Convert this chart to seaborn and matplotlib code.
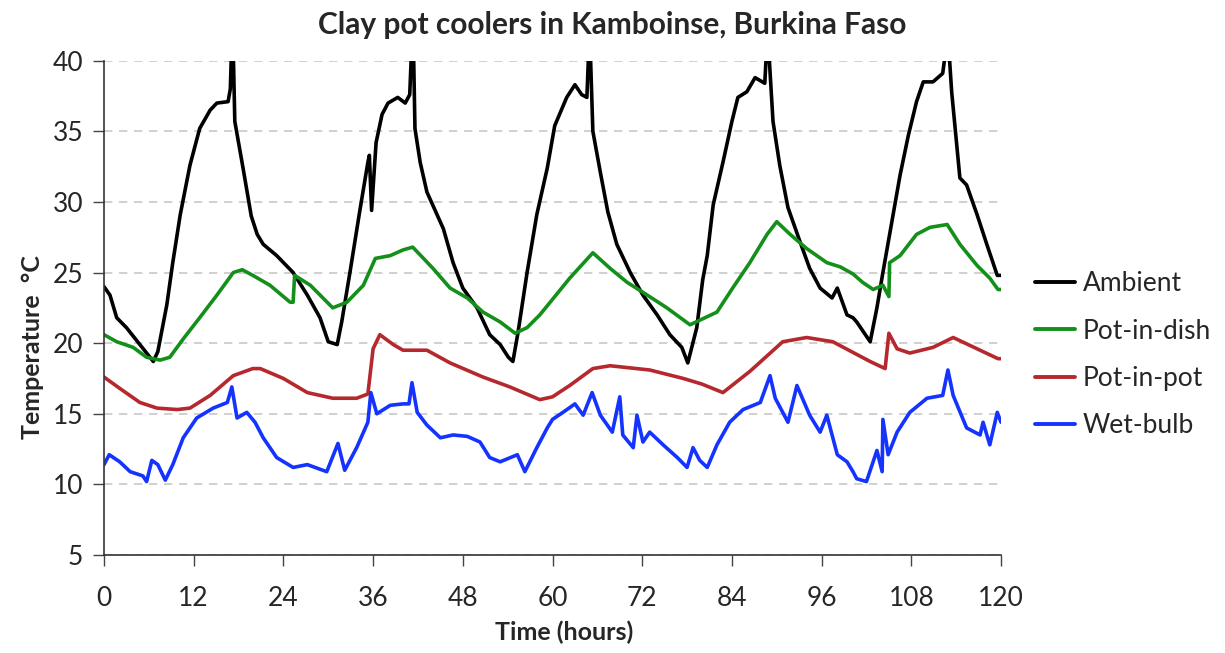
import numpy as np
import pandas as pd
import matplotlib
matplotlib.use("Agg")
import matplotlib.pyplot as plt
import seaborn as sns

# ---- data ----
t_ambient = [0, 0.8, 1.7, 3.0, 4.8, 6.6, 7.2, 8.4, 9.2, 10.2, 11.5, 12.8, 14.2, 15.1, 16.6, 16.9, 17.1, 17.3,
             17.5, 18.6, 19.7, 20.5, 21.3, 23.1, 25.3, 27.2, 28.9, 30.0, 31.2, 31.8, 32.9, 34.2, 35.3, 35.5,
             35.8, 36.4, 37.2, 38.0, 39.3, 40.3, 40.9, 41.2, 41.4, 41.6, 42.3, 43.2, 45.4, 46.7, 48.0, 49.9,
             51.6, 53.0, 54.1, 54.7, 55.4, 56.6, 57.9, 59.3, 60.3, 61.9, 63.0, 63.9, 64.6, 64.9, 65.1, 65.4,
             66.4, 67.4, 68.6, 70.4, 72.1, 74.0, 75.7, 77.3, 78.1, 79.3, 80.1, 80.7, 81.5, 82.8, 84.0, 84.8,
             86.0, 87.1, 88.4, 88.7, 88.9, 89.5, 90.4, 91.5, 93.1, 94.4, 95.8, 97.4, 98.1, 99.4, 100.2, 100.7,
             102.5, 103.4, 104.2, 105.4, 106.5, 107.6, 108.7, 109.6, 110.9, 112.2, 112.8, 113.0, 113.4, 114.5,
             115.4, 116.8, 118.1, 119.5, 120.0]
ambient = [24.0, 23.4, 21.8, 21.1, 19.9, 18.7, 19.4, 22.7, 25.7, 29.1, 32.6, 35.2, 36.5, 37.0, 37.1, 38.0, 41.5, 40.5,
           35.7, 32.4, 29.0, 27.7, 27.0, 26.2, 25.0, 23.4, 21.8, 20.1, 19.9, 21.5, 25.0, 29.3, 32.8, 33.3,
           29.4, 34.2, 36.2, 37.0, 37.4, 37.0, 37.6, 41.5, 41.0, 35.2, 32.8, 30.7, 28.1, 25.7, 23.9, 22.5,
           20.6, 19.9, 19.0, 18.7, 20.8, 25.0, 29.1, 32.4, 35.4, 37.4, 38.3, 37.6, 37.4, 41.5, 40.0, 35.0,
           32.1, 29.3, 27.0, 25.0, 23.4, 22.0, 20.6, 19.7, 18.6, 21.1, 24.5, 26.2, 29.8, 32.8, 35.7, 37.4,
           37.8, 38.8, 38.4, 41.5, 41.0, 35.7, 32.6, 29.6, 27.2, 25.3, 23.9, 23.2, 23.9, 22.0, 21.8, 21.5,
           20.1, 22.5, 25.0, 28.6, 31.9, 34.7, 37.1, 38.5, 38.5, 39.1, 41.5, 41.0, 37.8, 31.7,
           31.2, 29.1, 27.0, 24.8, 24.8]

t_dish = [0, 1.7, 3.9, 5.7, 7.5, 8.8, 10.6, 12.8, 15.1, 17.3, 18.5, 19.9, 22.2, 24.9, 25.3, 25.5, 27.6, 30.6,
          32.5, 34.7, 36.3, 38.3, 40.0, 41.3, 44.0, 46.3, 48.6, 50.7, 53.0, 55.0, 56.6, 58.3, 60.0, 62.3,
          65.4, 67.7, 70.0, 72.1, 75.3, 78.4, 80.0, 82.0, 84.1, 86.4, 88.7, 90.0, 91.8, 94.0, 96.7, 98.5,
          100.2, 101.5, 102.9, 104.2, 105.0, 105.1, 106.5, 108.7, 110.5, 112.8, 114.5, 116.8, 118.5, 119.6, 120.0]
dish = [20.6, 20.1, 19.7, 19.0, 18.8, 19.0, 20.3, 21.8, 23.4, 25.0, 25.2, 24.8, 24.1, 22.9, 22.9, 24.8, 24.1, 22.5,
        22.9, 24.1, 26.0, 26.2, 26.6, 26.8, 25.3, 23.9, 23.2, 22.2, 21.5, 20.7, 21.1, 22.0, 23.1, 24.6,
        26.4, 25.3, 24.3, 23.6, 22.5, 21.3, 21.7, 22.2, 23.9, 25.7, 27.7, 28.6, 27.7, 26.7, 25.7, 25.4,
        24.9, 24.3, 23.8, 24.1, 23.3, 25.7, 26.2, 27.7, 28.2, 28.4, 27.0, 25.5, 24.6, 23.8, 23.8]

t_pot = [0, 2.1, 4.8, 7.1, 9.8, 11.5, 14.2, 17.3, 19.9, 20.9, 24.0, 27.2, 30.6, 33.8, 35.3, 36.0, 36.9, 38.7,
         40.0, 43.2, 46.3, 50.7, 54.3, 58.3, 60.0, 62.3, 65.4, 67.7, 73.0, 77.5, 80.0, 82.8, 86.4, 90.8,
         94.0, 97.5, 100.0, 102.5, 104.5, 105.0, 106.1, 107.8, 110.9, 113.6, 116.8, 119.6, 120.0]
pot = [17.6, 16.8, 15.8, 15.4, 15.3, 15.4, 16.3, 17.7, 18.2, 18.2, 17.5, 16.5, 16.1, 16.1, 16.4, 19.6, 20.6, 19.9,
       19.5, 19.5, 18.6, 17.6, 16.9, 16.0, 16.2, 17.0, 18.2, 18.4, 18.1, 17.5, 17.1, 16.5, 18.0, 20.1,
       20.4, 20.1, 19.4, 18.7, 18.2, 20.7, 19.6, 19.3, 19.7, 20.4, 19.6, 18.9, 18.9]

t_wet = [0, 0.7, 2.1, 3.5, 5.2, 5.7, 6.4, 7.2, 8.2, 9.2, 10.6, 12.4, 14.6, 16.5, 17.1, 17.8, 19.1, 20.2, 21.3,
         23.1, 25.3, 27.2, 29.8, 31.3, 32.2, 33.8, 35.3, 35.7, 36.5, 38.3, 40.0, 40.8, 41.2, 41.9, 43.2,
         45.0, 46.7, 48.6, 50.3, 51.6, 53.0, 55.3, 56.3, 57.9, 59.3, 60.0, 61.4, 63.0, 64.1, 65.3, 66.4,
         68.0, 69.0, 69.4, 70.8, 71.3, 72.1, 73.0, 74.8, 76.7, 78.0, 78.8, 79.7, 80.7, 82.0, 83.7, 85.5,
         87.8, 89.1, 89.8, 91.5, 92.7, 94.4, 95.8, 96.7, 98.1, 99.4, 100.2, 100.7, 102.0, 103.4, 104.1,
         104.2, 104.9, 106.1, 107.8, 110.1, 112.2, 112.9, 113.6, 115.4, 117.2, 117.6, 118.5, 119.5, 120.0]
wet = [11.4, 12.1, 11.6, 10.9, 10.6, 10.2, 11.7, 11.4, 10.3, 11.4, 13.3, 14.7, 15.4, 15.8, 16.9, 14.7, 15.1, 14.4, 13.3,
       11.9, 11.2, 11.4, 10.9, 12.9, 11.0, 12.6, 14.4, 16.5, 15.0, 15.6, 15.7, 15.7, 17.2, 15.1, 14.2,
       13.3, 13.5, 13.4, 13.0, 11.9, 11.6, 12.1, 10.9, 12.6, 14.0, 14.6, 15.1, 15.7, 14.9, 16.5, 14.9,
       13.7, 16.2, 13.5, 12.6, 14.9, 13.0, 13.7, 12.8, 11.9, 11.2, 12.6, 11.7, 11.2, 12.8, 14.4, 15.3,
       15.8, 17.7, 16.1, 14.4, 17.0, 14.9, 13.7, 14.9, 12.1, 11.6, 10.9, 10.4, 10.2, 12.4, 10.9,
       14.6, 12.1, 13.7, 15.1, 16.1, 16.3, 18.1, 16.3, 14.0, 13.5, 14.4, 12.8, 15.1, 14.4]

series_names = ["Ambient", "Pot-in-dish", "Pot-in-pot", "Wet-bulb"]
series_colors = ["#000000", "#14901a", "#b5292e", "#1433ff"]
x_ticks = [0, 12, 24, 36, 48, 60, 72, 84, 96, 108, 120]
y_ticks = [5, 10, 15, 20, 25, 30, 35, 40]

frames = []
for name, t, v in zip(series_names, [t_ambient, t_dish, t_pot, t_wet], [ambient, dish, pot, wet]):
    frames.append(pd.DataFrame({"Time": t, "Temp": v, "Series": name}))
df = pd.concat(frames, ignore_index=True)

sns.set_theme(style="white")
plt.rcParams["font.family"] = ["Lato", "DejaVu Sans"]

fig = plt.figure(figsize=(12.25, 6.53), dpi=100)
ax = fig.add_axes([104 / 1225, 1 - 555 / 653, (1001 - 104) / 1225, (555 - 60.7) / 653])

sns.lineplot(data=df, x="Time", y="Temp", hue="Series", hue_order=series_names,
             palette=dict(zip(series_names, series_colors)), sort=False, estimator=None,
             linewidth=2.6, ax=ax)

ax.set_xlim(0, 120)
ax.set_ylim(5, 40)
ax.set_xticks(x_ticks)
ax.set_yticks(y_ticks)
ax.tick_params(axis="both", labelsize=19, length=8, width=1, color="#444444", direction="out",
               bottom=True, left=True, pad=7)
ax.tick_params(axis="x", pad=14)
ax.yaxis.grid(True, linestyle=(0, (5, 4)), color="#c8c8c8", linewidth=1.2)
ax.xaxis.grid(False)
for s in ["top", "right"]:
    ax.spines[s].set_visible(False)
for s in ["left", "bottom"]:
    ax.spines[s].set_color("#333333")
    ax.spines[s].set_linewidth(1.2)

ax.set_xlabel("Time (hours)", fontsize=18, fontweight="bold")
ax.set_ylabel("Temperature  °C", fontsize=18, fontweight="bold")
ax.xaxis.set_label_coords((564 - 104) / 897, -0.132)
ax.yaxis.set_label_coords(-0.067, 0.42)
fig.suptitle("Clay pot coolers in Kamboinse, Burkina Faso", x=0.5, y=0.983,
             fontsize=21.5, fontweight="bold")

leg = ax.legend(loc="center left", bbox_to_anchor=(1.038, 0.405), frameon=False, fontsize=19,
                handlelength=1.5, labelspacing=0.85, handletextpad=0.3, borderpad=0,
                borderaxespad=0)
for line in leg.get_lines():
    line.set_linewidth(2.8)

fig.savefig("out.png", dpi=100)
